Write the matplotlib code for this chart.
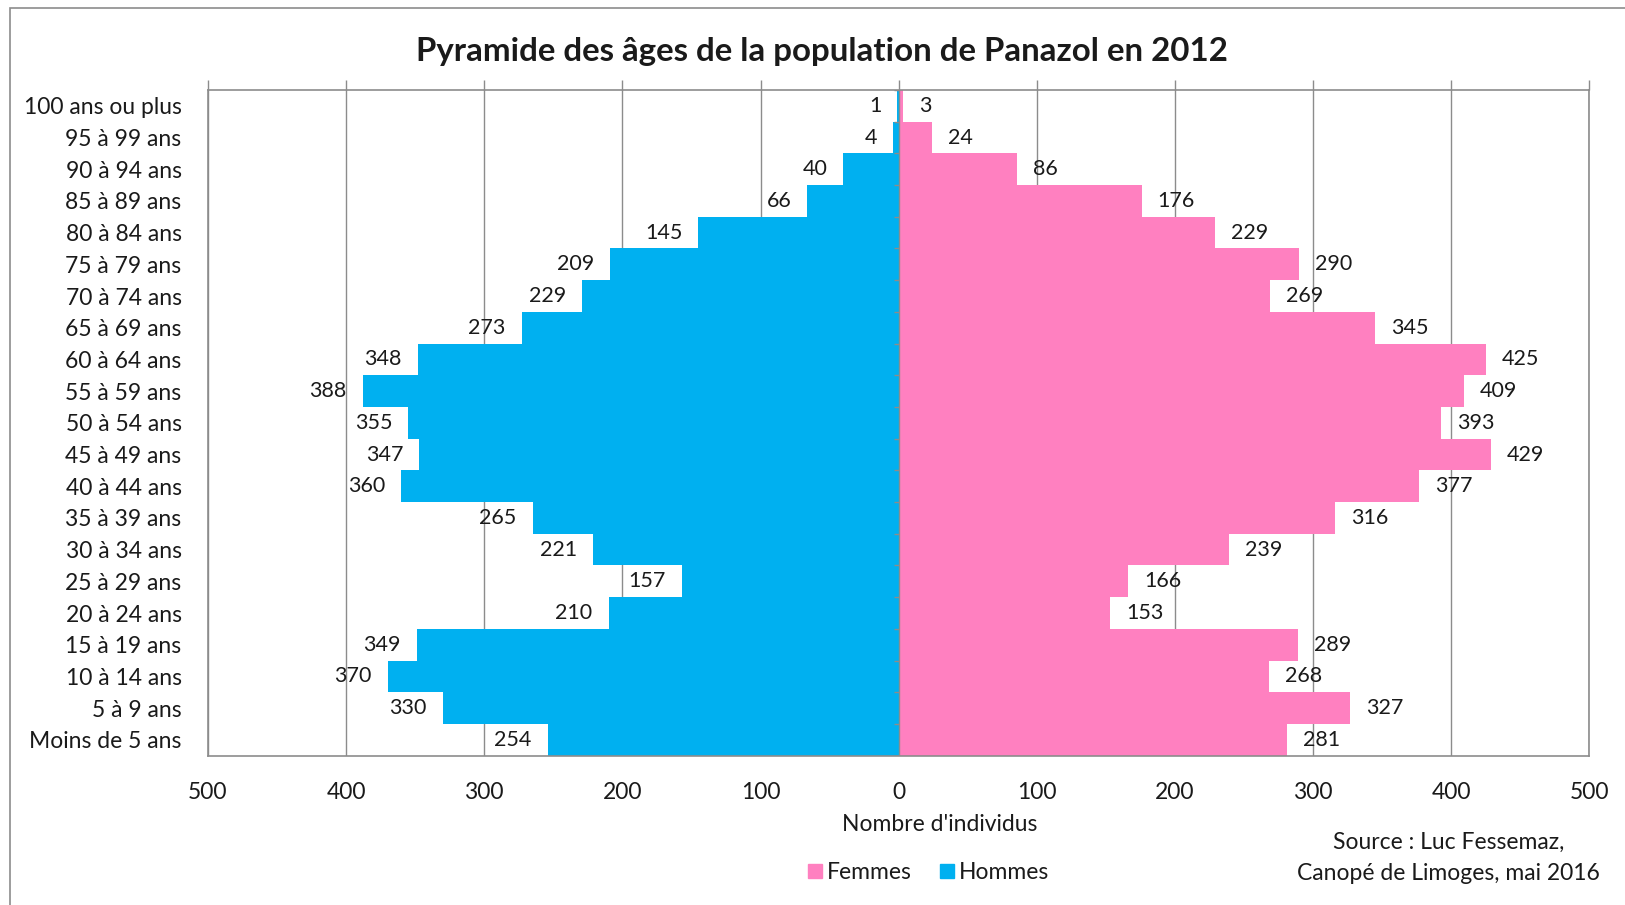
import matplotlib.pyplot as plt
from matplotlib.patches import Patch, Rectangle
import numpy as np

# ------------------------------
# Data (bottom to top)
# ------------------------------

ages = ["Moins de 5 ans", "5 à 9 ans", "10 à 14 ans", "15 à 19 ans", "20 à 24 ans",
        "25 à 29 ans", "30 à 34 ans", "35 à 39 ans", "40 à 44 ans", "45 à 49 ans",
        "50 à 54 ans", "55 à 59 ans", "60 à 64 ans", "65 à 69 ans", "70 à 74 ans",
        "75 à 79 ans", "80 à 84 ans", "85 à 89 ans", "90 à 94 ans", "95 à 99 ans",
        "100 ans ou plus"]
hommes = [254, 330, 370, 349, 210, 157, 221, 265, 360, 347, 355, 388, 348, 273,
          229, 209, 145, 66, 40, 4, 1]
femmes = [281, 327, 268, 289, 153, 166, 239, 316, 377, 429, 393, 409, 425, 345,
          269, 290, 229, 176, 86, 24, 3]
xticks = [-500, -400, -300, -200, -100, 0, 100, 200, 300, 400, 500]

blue = "#00B0F0"
pink = "#FF80C0"
grey = "#8c8c8c"
txt = "#1a1a1a"

plt.rcParams["font.family"] = ["Lato", "DejaVu Sans"]

fig = plt.figure(figsize=(16.25, 9.05), dpi=100)
ax = fig.add_axes([0.128, 0.165, 0.85, 0.7356])

y = np.arange(len(ages))
h = -np.array(hommes)
f = np.array(femmes)

ax.barh(y, h, height=1.0, color=blue, zorder=2)
ax.barh(y, f, height=1.0, color=pink, zorder=2)

# zero axis with small ticks
ax.axvline(0, color=grey, lw=1, zorder=3)
for b in np.arange(-0.5, len(ages), 1.0):
    ax.plot([-3.5, 0], [b, b], color=grey, lw=1, zorder=3, solid_capstyle="butt")

# data labels
for i in range(len(ages)):
    ax.annotate(str(hommes[i]), (h[i], y[i]), xytext=(-11.5, 0), textcoords="offset points",
                ha="right", va="center", fontsize=15.5, color=txt, zorder=4)
    ax.annotate(str(femmes[i]), (f[i], y[i]), xytext=(11.5, 0), textcoords="offset points",
                ha="left", va="center", fontsize=15.5, color=txt, zorder=4)

ax.set_xlim(-500, 500)
ax.set_ylim(-0.5, len(ages) - 0.5)
ax.set_xticks(xticks)
ax.set_xticklabels([str(abs(v)) for v in xticks])
ax.set_yticks(y)
ax.set_yticklabels(ages)

ax.grid(axis="x", color=grey, lw=1, zorder=0)
ax.set_axisbelow(True)
for s in ax.spines.values():
    s.set_color(grey)
    s.set_linewidth(1.2)

ax.tick_params(axis="x", top=True, bottom=False, labeltop=False, labelbottom=True,
               direction="out", length=7, width=1, color=grey, pad=12,
               labelsize=16.5, labelcolor=txt)
ax.tick_params(axis="y", left=False, length=0, pad=19, labelsize=16.5, labelcolor=txt)

fig.suptitle("Pyramide des âges de la population de Panazol en 2012", x=0.506, y=0.943,
             fontsize=23.8, fontweight="bold", color=txt, va="center")

fig.text(0.5785, 0.0884, "Nombre d'individus", ha="center", va="center",
         fontsize=16.5, color=txt)
fig.text(0.8915, 0.069, "Source : Luc Fessemaz,", ha="center", va="center",
         fontsize=16.5, color=txt)
fig.text(0.8915, 0.0347, "Canopé de Limoges, mai 2016", ha="center", va="center",
         fontsize=16.5, color=txt)

handles = [Patch(color=pink, label="Femmes"), Patch(color=blue, label="Hommes")]
fig.legend(handles=handles, loc="center", bbox_to_anchor=(0.5715, 0.036), ncol=2,
           frameon=False, fontsize=16.5, handlelength=0.6, handleheight=0.6,
           handletextpad=0.25, columnspacing=1.2, labelcolor=txt)

# outer chart border (top and left edges visible)
fig.patches.append(Rectangle((10 / 1625, -0.2), 1.1, 1.2 - 8 / 905, transform=fig.transFigure,
                             fill=False, edgecolor=grey, lw=1.2))

fig.savefig("out.png", dpi=100)
